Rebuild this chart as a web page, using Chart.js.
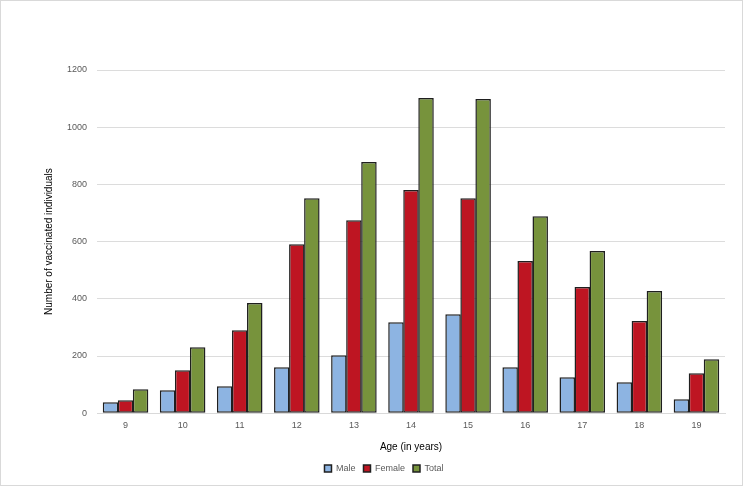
<!DOCTYPE html>
<html>
<head>
<meta charset="utf-8">
<script src="https://cdn.jsdelivr.net/npm/chart.js@4.4.0/dist/chart.umd.min.js"></script>
<style>
  html, body { margin: 0; padding: 0; background: #fff; }
  #wrap { position: relative; width: 741px; height: 484px; border: 1px solid #d9d9d9; }
</style>
</head>
<body>
<div id="wrap"><canvas id="chart"></canvas></div>
<script>
/* ================================================
   DATA
================================================ */

const ages   = ['9', '10', '11', '12', '13', '14', '15', '16', '17', '18', '19'];
const male   = [38, 80, 94, 161, 203, 318, 346, 161, 126, 108, 49];
const female = [45, 150, 290, 591, 675, 780, 752, 532, 441, 322, 140];
const total  = [84, 231, 385, 752, 878, 1102, 1099, 689, 567, 427, 189];

const FONT = "'Liberation Sans', 'DejaVu Sans', sans-serif";
const TXT  = '#595959';

function barSet(label, data, fill) {
  return {
    label,
    data,
    backgroundColor: fill,
    borderColor:     '#1f1f1f',
    borderWidth:     1.5,
    borderSkipped:   false,
  };
}

/* ================================================
   CHART
================================================ */

new Chart(document.getElementById('chart').getContext('2d'), {
  type: 'bar',
  data: {
    labels: ages,
    datasets: [
      barSet('Male',   male,   '#8db4e2'),
      barSet('Female', female, '#be1522'),
      barSet('Total',  total,  '#77933c'),
    ],
  },
  options: {
    responsive:          true,
    maintainAspectRatio: false,
    animation:           false,
    categoryPercentage:  0.79,
    barPercentage:       1.03,
    layout: { padding: { top: 69, right: 17, bottom: 2, left: 42 } },
    plugins: {
      legend: {
        position: 'bottom',
        labels: {
          color:     TXT,
          font:      { family: FONT, size: 9 },
          boxWidth:  7,
          boxHeight: 7,
          padding:   8,
        },
      },
      tooltip: { enabled: false },
    },
    scales: {
      x: {
        grid:   { display: false, drawTicks: false },
        border: { color: '#d9d9d9' },
        ticks:  { color: TXT, font: { family: FONT, size: 9 }, padding: 7 },
        title: {
          display: true,
          text:    'Age (in years)',
          color:   '#000',
          font:    { family: FONT, size: 10 },
          padding: { top: 3, bottom: 3 },
        },
      },
      y: {
        min: 0,
        max: 1200,
        grid:   { color: '#dcdcdc', drawTicks: false },
        border: { display: false },
        ticks:  {
          stepSize: 200,
          color:    TXT,
          font:     { family: FONT, size: 9 },
          padding:  10,
          callback: v => String(v),
        },
        title: {
          display: true,
          text:    'Number of vaccinated individuals',
          color:   '#000',
          font:    { family: FONT, size: 10 },
          padding: { top: 0, bottom: 16 },
        },
        afterFit: scale => { scale.width = 54; },
      },
    },
  },
});
</script>
</body>
</html>
